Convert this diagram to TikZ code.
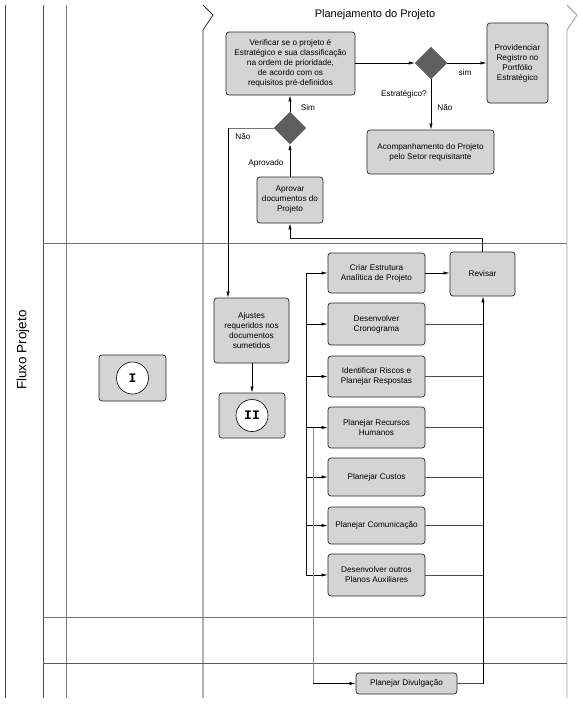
\documentclass[tikz,border=0pt]{standalone}
\usepackage{fontspec}
\setmainfont{Liberation Sans}
\newfontfamily\monof{Liberation Mono}
\usetikzlibrary{shapes.geometric,arrows.meta}
\definecolor{boxgray}{HTML}{D4D4D4}
\definecolor{diagray}{HTML}{5F5F5F}
\tikzset{
  pbox/.style={draw=black!85, fill=boxgray, rounded corners=3pt, align=center,
    font=\fontsize{8.2}{10}\selectfont, inner sep=1pt, line width=0.7pt},
  dia/.style={diamond, draw=diagray, fill=diagray, minimum width=32pt, minimum height=32pt, inner sep=0pt, aspect=1},
  arr/.style={-{Latex[length=6pt,width=3.2pt]}, line width=0.6pt, black},
  ln/.style={line width=0.6pt, black!90},
  lbl/.style={font=\fontsize{8.2}{10}\selectfont, inner sep=0pt},
  lane/.style={line width=0.8pt},
  circ/.style={circle, draw=black, fill=white, minimum size=32pt, inner sep=0pt, line width=0.6pt, font=\monof\fontsize{13}{13}\selectfont\bfseries},
}
\begin{document}
\begin{tikzpicture}[x=1pt,y=-1pt]
\useasboundingbox (0,0) rectangle (582,704);
% lanes
\draw[lane, black!75] (5,5) -- (5,698);
\draw[lane, black!70] (43,5) -- (43,698);
\draw[lane, black!50] (66,5) -- (66,698);
\draw[lane, black!85] (203,5) -- (213,15) -- (203,30) -- (203,698);
\draw[lane, black!40] (567,5) -- (577,15) -- (567,30) -- (567,698);
\draw[lane, black!55] (43,243) -- (567,243);
\draw[lane, black!55] (43,617) -- (567,617);
\draw[lane, black!65] (43,663) -- (567,663);
\node[font=\fontsize{13.5}{14}\selectfont, rotate=90] (fluxo) at (23,350) {Fluxo Projeto};
\node[font=\fontsize{11}{12}\selectfont] (titulo) at (375,15) {Planejamento do Projeto};

% top nodes
\node[pbox, minimum width=129pt, minimum height=63pt] (verif) at (290.5,63.5)
  {Verificar se o projeto é\\Estratégico e sua classificação\\na ordem de prioridade,\\de acordo com os\\requisitos pré-definidos};
\node[dia] (d1) at (290,128) {};
\node[pbox, minimum width=66pt, minimum height=46pt] (aprovar) at (290,200) {Aprovar\\documentos do\\Projeto};
\node[dia] (d2) at (431,63) {};
\node[pbox, minimum width=61pt, minimum height=80pt] (prov) at (517.5,63) {Providenciar\\Registro no\\Portfólio\\Estratégico};
\node[pbox, minimum width=127pt, minimum height=44pt] (acomp) at (430.5,152) {Acompanhamento do Projeto\\pelo Setor requisitante};

% middle nodes
\node[pbox, minimum width=75pt, minimum height=65pt] (ajustes) at (251.5,330.5) {Ajustes\\requeridos nos\\documentos\\sumetidos};
\node[pbox, minimum width=66pt, minimum height=45pt] (bII) at (252,415.5) {};
\node[circ] (cII) at (bII.center) {II};
\node[pbox, minimum width=67pt, minimum height=46pt] (bI) at (132.5,378) {};
\node[circ] (cI) at (bI.center) {I};

\node[pbox, minimum width=97pt, minimum height=40pt] (criar) at (376.5,273) {Criar Estrutura\\Analítica de Projeto};
\node[pbox, minimum width=97pt, minimum height=42pt] (crono) at (376.5,324) {Desenvolver\\Cronograma};
\node[pbox, minimum width=97pt, minimum height=41pt] (riscos) at (376.5,376.5) {Identificar Riscos e\\Planejar Respostas};
\node[pbox, minimum width=97pt, minimum height=41pt] (rh) at (376.5,427.5) {Planejar Recursos\\Humanos};
\node[pbox, minimum width=97pt, minimum height=38pt] (custos) at (376.5,477) {Planejar Custos};
\node[pbox, minimum width=97pt, minimum height=37pt] (comun) at (376.5,525.5) {Planejar Comunicação};
\node[pbox, minimum width=97pt, minimum height=42pt] (outros) at (376.5,575) {Desenvolver outros\\Planos Auxiliares};
\node[pbox, minimum width=101pt, minimum height=21pt] (divulg) at (406.5,683.5) {Planejar Divulgação};
\node[pbox, minimum width=65pt, minimum height=44pt] (revisar) at (482.5,274) {Revisar};

% top connectors
\draw[arr] (d1.north) -- (verif.south -| d1.north);
\node[lbl] (lsim) at (308,108) {Sim};
\draw[arr] (aprovar.north) -- (d1.south);
\node[lbl] (laprov) at (266,163) {Aprovado};
\coordinate (naoc) at (228,128);
\draw[line width=0.6pt, black!55] (d1.west) -- (naoc);
\draw[arr] (naoc) -- (naoc |- ajustes.north);
\node[lbl] (lnao1) at (243,137) {Não};
\draw[arr] (verif.east |- d2.west) -- (d2.west);
\draw[arr] (d2.east) -- (prov.west |- d2.east);
\node[lbl] (lsim2) at (465,73) {sim};
\draw[arr] (d2.south) -- (acomp.north -| d2.south);
\node[lbl] (lnao2) at (445,108) {Não};
\node[lbl] (lestr) at (404,94) {Estratégico?};

% middle connectors
\draw[arr] (ajustes.south -| bII.north) -- (bII.north);
\draw[arr] (criar.east) -- (criar.east -| revisar.west);

\coordinate (bt) at (306,273);
\coordinate (bb) at (306,575);
\draw[ln] (bt) -- (bb);
\foreach \n in {criar,crono,riscos,rh,custos,comun,outros}
  \draw[arr] (bt |- \n.west) -- (\n.west);
\coordinate (b2t) at (313,427.5);
\draw[line width=0.6pt, black!45] (b2t) -- (b2t |- divulg.west);
\draw[arr] (b2t |- divulg.west) -- (divulg.west);

\coordinate (rt) at (483,683.5);
\foreach \n in {crono,riscos,rh,custos,comun,outros,divulg}
  \draw[line width=0.6pt, black!70] (\n.east) -- (\n.east -| rt);
\draw[arr] (rt) -- (revisar.south -| rt);

\coordinate (rtop) at (482.5,238);
\draw[ln] (revisar.north) -- (rtop) -- (rtop -| aprovar.south);
\draw[arr] (rtop -| aprovar.south) -- (aprovar.south);
\end{tikzpicture}
\end{document}
